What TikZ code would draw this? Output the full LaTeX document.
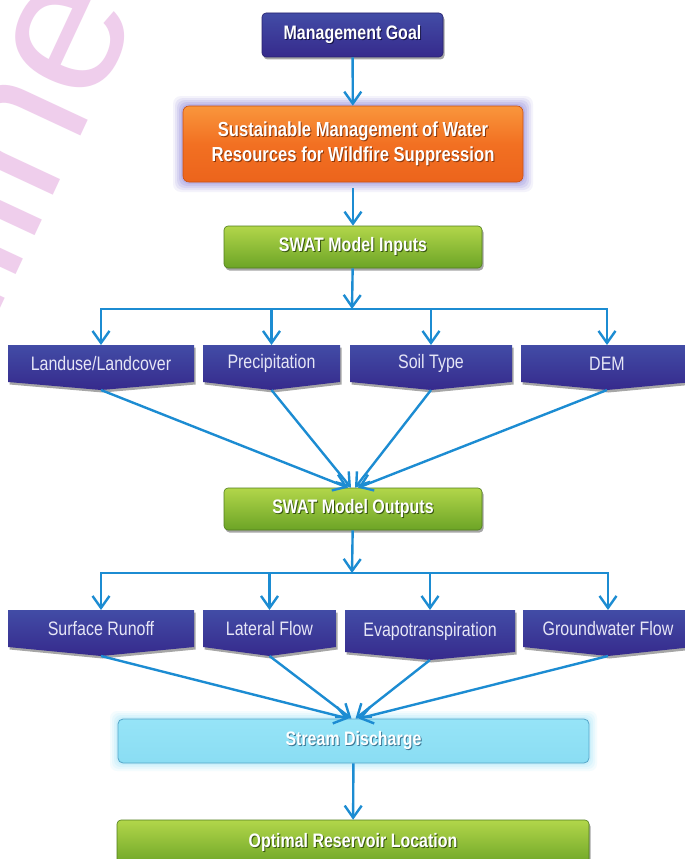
\documentclass[tikz,border=0pt]{standalone}
\usepackage{fontspec}
\setmainfont[FakeStretch=0.82]{Liberation Sans}
\newfontfamily\wmfont{Liberation Sans}
\usetikzlibrary{arrows.meta,shadows}
\definecolor{arrowc}{RGB}{28,140,210}
\definecolor{navyT}{RGB}{66,76,166}
\definecolor{navyB}{RGB}{54,42,140}
\definecolor{navyD}{RGB}{40,34,110}
\definecolor{navySh}{RGB}{20,18,70}
\definecolor{orT}{RGB}{249,150,60}
\definecolor{orM}{RGB}{242,112,34}
\definecolor{orB}{RGB}{236,100,28}
\definecolor{orD}{RGB}{200,80,20}
\definecolor{orSh}{RGB}{140,55,10}
\definecolor{glowP}{RGB}{150,140,220}
\definecolor{grT}{RGB}{178,214,74}
\definecolor{grB}{RGB}{108,164,38}
\definecolor{grD}{RGB}{80,125,28}
\definecolor{grSh}{RGB}{55,85,15}
\definecolor{cyF}{RGB}{138,221,243}
\definecolor{cyT}{RGB}{150,228,247}
\definecolor{cyD}{RGB}{85,165,200}
\definecolor{cyG}{RGB}{170,232,250}
\definecolor{cySh}{RGB}{60,120,150}
\definecolor{wmpink}{RGB}{239,206,236}
\definecolor{chevtxt}{RGB}{230,230,246}
\newcommand\shd[2]{\leavevmode\rlap{\kern1pt\raisebox{-1pt}{\textcolor{#1}{#2}}}#2}
\newcommand\chev[7]{%
  \path[chevshape] (#2,#4) -- (#3,#4) -- (#3,#5) -- ({(#2+#3)/2},#6) -- (#2,#5) -- cycle;
  \coordinate (#1tip) at ({(#2+#3)/2},#6);
  \coordinate (#1top) at ({(#2+#3)/2},#4);
  \node[chevtext] (#1) at ({(#2+#3)/2},{(#4+#5)/2}) {#7};}
\begin{document}
\begin{tikzpicture}[x=1pt,y=-1pt,
  arr/.style={draw=arrowc, line width=2.4pt, -{Straight Barb[length=12pt,width=17pt,line width=2.4pt]}},
  bfont/.style={font=\bfseries\fontsize{19.5}{25}\selectfont},
  box/.style={rounded corners=4pt, inner sep=0pt, text=white, align=center, bfont},
  shad/.style={drop shadow={shadow xshift=1.5pt, shadow yshift=-2.5pt, opacity=0.35, fill=black}},
  navybox/.style={box, shad, top color=navyT, bottom color=navyB, draw=navyD, line width=0.6pt},
  orangebox/.style={box, rounded corners=6pt, top color=orT, bottom color=orB, middle color=orM, draw=orD, line width=0.6pt, font=\bfseries\fontsize{20.3}{25}\selectfont},
  greenbox/.style={box, shad, top color=grT, bottom color=grB, draw=grD, line width=0.6pt},
  cyanbox/.style={box, rounded corners=5pt, top color=cyT, bottom color=cyF, draw=cyD, line width=0.8pt},
  chevshape/.style={top color=navyT, bottom color=navyB, shad},
  chevtext/.style={text=chevtxt, inner sep=0pt, font=\fontsize{19.5}{23}\selectfont},
]
\useasboundingbox (0,0) rectangle (685,859);
\fill[white] (0,0) rectangle (685,859);
% watermark
\node[rotate=65, anchor=base east, text=wmpink, inner sep=0pt, font=\wmfont\fontsize{196}{196}\selectfont] (wm) at (140,10) {Online};

% management goal
\node[navybox, minimum width=181pt, minimum height=44pt] (mg) at (352.5,35) {\shd{navySh}{Management Goal}};

% orange with glow
\foreach \g/\o in {10/0.10,8/0.14,6/0.18,4/0.22,2/0.28}
  \fill[glowP, opacity=\o, rounded corners=8pt] (183-\g,106-\g) rectangle (523+\g,182+\g);
\node[orangebox, minimum width=340pt, minimum height=76pt] (sm) at (353,144)
  {\shd{orSh}{Sustainable Management of Water}\\\shd{orSh}{Resources for Wildfire Suppression}};

\node[greenbox, minimum width=258pt, minimum height=42pt] (inp) at (353,247) {\shd{grSh}{SWAT Model Inputs}};

\chev{lu}{8}{194}{345}{382}{390}{Landuse/Landcover}
\chev{pr}{203}{340}{345}{382}{390}{Precipitation}
\chev{so}{350}{512}{345}{382}{390}{Soil Type}
\chev{de}{521}{693}{345}{382}{390}{DEM}

\node[greenbox, minimum width=258pt, minimum height=42pt] (out) at (353,509) {\shd{grSh}{SWAT Model Outputs}};

\chev{sr}{8}{194}{610}{647}{656}{Surface Runoff}
\chev{lf}{203}{336}{610}{647}{656}{Lateral Flow}
\chev{ev}{345}{515}{610}{652}{660}{Evapotranspiration}
\chev{gw}{523}{693}{610}{647}{656}{Groundwater Flow}

\foreach \g/\o in {8/0.12,6/0.16,4/0.22,2/0.3}
  \fill[cyG, opacity=\o, rounded corners=7pt] (118-\g,719-\g) rectangle (589+\g,763+\g);
\node[cyanbox, minimum width=471pt, minimum height=44pt] (sd) at (353.5,741) {\shd{cySh}{Stream Discharge}};

\node[greenbox, minimum width=472pt, minimum height=46pt] (orl) at (353,843) {\shd{grSh}{Optimal Reservoir Location}};

% connectors
\coordinate (bus1) at (352,309);
\coordinate (bus2) at (352,573);
\draw[arr] (mg) -- (sm);
\draw[arr, shorten <=6pt] (sm) -- (inp);
\draw[arr] (inp) -- (bus1);
\foreach \n in {lu,pr,so,de} \draw[arr] (bus1) -| (\n top);
\draw[arr] (lutip) -- ([xshift=-5pt]out.north);
\draw[arr] (prtip) -- ([xshift=-2pt]out.north);
\draw[arr] (sotip) -- ([xshift=2pt]out.north);
\draw[arr] (detip) -- ([xshift=5pt]out.north);
\draw[arr] (out) -- (bus2);
\foreach \n in {sr,lf,ev,gw} \draw[arr] (bus2) -| (\n top);
\draw[arr] (srtip) -- ([xshift=-5pt]sd.north);
\draw[arr] (lftip) -- ([xshift=-2pt]sd.north);
\draw[arr] (evtip) -- ([xshift=2pt]sd.north);
\draw[arr] (gwtip) -- ([xshift=5pt]sd.north);
\draw[arr] (sd) -- (orl);
\end{tikzpicture}
\end{document}
